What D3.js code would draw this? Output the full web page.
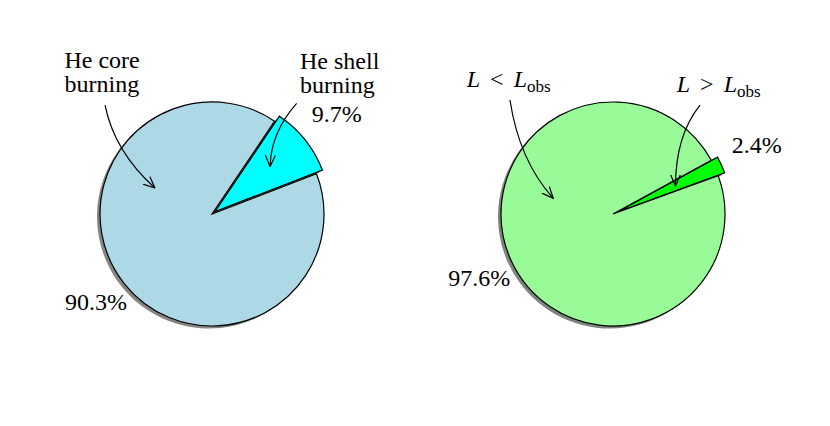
<!DOCTYPE html>
<meta charset="utf-8">
<style>
    body { margin: 0; background: #fff; }
    svg text {
        font-family: "Liberation Serif", "Times New Roman", serif;
        font-size: 24px;
        fill: #000;
    }
    .slice { stroke: #000; stroke-width: 1.2px; stroke-linejoin: miter; }
    .arrow { fill: none; stroke: #000; stroke-width: 1.2px; }
</style>

<div class="chart"></div>

<script src="https://cdn.jsdelivr.net/npm/d3@7/dist/d3.min.js"></script>

<script>
    var svgW = 830, svgH = 426;

    // left pie: burning phase
    var phaseNames = ["He shell burning", "He core burning"];
    var phaseValues = [9.7, 90.3];

    // right pie: luminosity compared with the observed one
    var lumNames = ["L > Lobs", "L < Lobs"];
    var lumValues = [2.4, 97.6];

    var fmt = function (v) { return d3.format(".1f")(v) + "%"; };

    var svg = d3.select('.chart')
        .append("svg")
        .attr("width", svgW)
        .attr("height", svgH);

    var defs = svg.append("defs");
    defs.append("marker")
        .attr("id", "head")
        .attr("viewBox", "0 -6 12 12")
        .attr("refX", 11.5)
        .attr("refY", 0)
        .attr("markerWidth", 12)
        .attr("markerHeight", 12)
        .attr("markerUnits", "userSpaceOnUse")
        .attr("orient", "auto")
        .append("path")
        .attr("d", "M0,-5L11.5,0L0,5")
        .attr("fill", "none")
        .attr("stroke", "#000")
        .attr("stroke-width", 1.2);

    // label / arrow positions are in pie units (center = 0, radius = 1)
    var pies = [
        {
            names: phaseNames, values: phaseValues,
            fills: ["#00ffff", "#add8e6"], shadow: "#858585",
            cx: 212, cy: 214, r: 112, start: 34,
            labels: [
                {u: 0.786, v: -1.292, lines: ["He shell", "burning"]},
                {u: -1.317, v: -1.304, lines: ["He core", "burning"]}
            ],
            pct: [{u: 0.890, v: -0.824}, {u: -1.3125, v: 0.857}],
            arrows: [
                [[0.756, -0.988], [0.527, -0.732], [0.518, -0.422]],
                [[-0.955, -0.973], [-0.872, -0.559], [-0.509, -0.232]]
            ]
        },
        {
            names: lumNames, values: lumValues,
            fills: ["#00ff00", "#98fb98"], shadow: "#7c877c",
            cx: 613, cy: 214, r: 112, start: 61.3,
            labels: [
                {u: 0.569, v: -1.087, rel: ">"},
                {u: -1.306, v: -1.131, rel: "<"}
            ],
            pct: [{u: 1.060, v: -0.547}, {u: -1.471, v: 0.640}],
            arrows: [
                [[0.777, -0.973], [0.558, -0.700], [0.558, -0.250]],
                [[-0.920, -1.018], [-0.838, -0.477], [-0.533, -0.140]]
            ]
        }
    ];

    pies.forEach(drawPie);

    function drawPie(p) {
        var x = d3.scaleLinear().domain([-1, 1]).range([p.cx - p.r, p.cx + p.r]);
        var y = d3.scaleLinear().domain([-1, 1]).range([p.cy - p.r, p.cy + p.r]);

        var a0 = p.start * Math.PI / 180;
        var pie = d3.pie().sort(null).startAngle(a0).endAngle(a0 + 2 * Math.PI);
        var arcs = pie(p.values);

        var arcBig = d3.arc().innerRadius(0).outerRadius(p.r);
        var arcSmall = d3.arc().innerRadius(0).outerRadius(p.r + 3);
        var explode = 4;

        function shift(d, i) {
            if (i != 0) return [0, 0];
            var m = (d.startAngle + d.endAngle) / 2;
            return [explode * Math.sin(m), -explode * Math.cos(m)];
        }
        function path(d, i) { return i == 0 ? arcSmall(d) : arcBig(d); }

        var g = svg.append("g")
            .attr("transform", "translate(" + p.cx + "," + p.cy + ")");

        // drop shadow
        g.selectAll(".shadow")
            .data(arcs)
            .enter().append("path")
            .attr("class", "shadow")
            .attr("d", path)
            .attr("fill", p.shadow)
            .attr("transform", function (d, i) {
                var s = shift(d, i);
                return "translate(" + (s[0] - 3) + "," + (s[1] + 2.5) + ")";
            });

        g.selectAll(".slice")
            .data(arcs)
            .enter().append("path")
            .attr("class", "slice")
            .attr("d", path)
            .attr("fill", function (d, i) { return p.fills[i]; })
            .attr("transform", function (d, i) {
                var s = shift(d, i);
                return "translate(" + s[0] + "," + s[1] + ")";
            });

        // percent labels
        svg.selectAll(null)
            .data(p.pct)
            .enter().append("text")
            .attr("x", function (d) { return x(d.u); })
            .attr("y", function (d) { return y(d.v); })
            .text(function (d, i) { return fmt(p.values[i]); });

        // name labels
        p.labels.forEach(function (l, i) {
            var t = svg.append("text")
                .attr("x", x(l.u))
                .attr("y", y(l.v));
            if (l.lines) {
                l.lines.forEach(function (s, k) {
                    t.append("tspan")
                        .attr("x", x(l.u))
                        .attr("dy", k == 0 ? 0 : "1em")
                        .text(s);
                });
            } else {
                t.append("tspan").attr("font-style", "italic").text("L");
                t.append("tspan").attr("dx", 10).text(l.rel);
                t.append("tspan").attr("dx", 10).attr("font-style", "italic").text("L");
                t.append("tspan").attr("font-size", "17px").attr("dy", 5).text("obs");
            }
        });

        // arrows
        p.arrows.forEach(function (a) {
            var pth = d3.path();
            pth.moveTo(x(a[0][0]), y(a[0][1]));
            pth.quadraticCurveTo(x(a[1][0]), y(a[1][1]), x(a[2][0]), y(a[2][1]));
            svg.append("path")
                .attr("class", "arrow")
                .attr("d", pth.toString())
                .attr("marker-end", "url(#head)");
        });
    }
</script>
